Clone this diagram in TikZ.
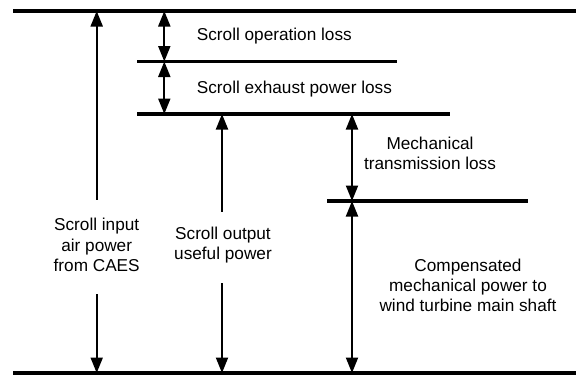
\documentclass[tikz,border=0pt]{standalone}
\usepackage{fontspec}
\setmainfont{Liberation Sans}
\usetikzlibrary{arrows.meta}
\begin{document}
\begin{tikzpicture}[x=1bp,y=-1bp,
  level/.style={line width=3.8bp},
  arr/.style={line width=2bp,-{Triangle[length=15.5bp,width=12bp]}},
  darr/.style={line width=2bp,{Triangle[length=15.5bp,width=12bp]}-{Triangle[length=15.5bp,width=12bp]}},
  lbl/.style={font=\fontsize{17.2bp}{20.3bp}\selectfont, align=center, inner sep=0pt}]
\useasboundingbox (0,0) rectangle (576,378);
% level lines
\coordinate (T1) at (13,11);   \coordinate (T2) at (576,11);
\coordinate (L2a) at (137,61.5); \coordinate (L2b) at (397,61.5);
\coordinate (L3a) at (137,114);  \coordinate (L3b) at (450,114);
\coordinate (L4a) at (327,201);  \coordinate (L4b) at (528,201);
\coordinate (B1) at (13,373);  \coordinate (B2) at (576,373);
\draw[level] (T1) -- (T2);
\draw[level] (L2a) -- (L2b);
\draw[level] (L3a) -- (L3b);
\draw[level] (L4a) -- (L4b);
\draw[level] (B1) -- (B2);
% labels
\node[lbl] (inA) at (96.7,245) {Scroll input\\air power\\from CAES};
\node[lbl] (outC) at (223,245) {Scroll output\\useful power};
\node[lbl] (comp) at (468,285.3) {Compensated\\mechanical power to\\wind turbine main shaft};
\node[lbl] (mech) at (430,153) {Mechanical\\transmission loss};
\node[lbl,anchor=base west] (oper) at (196.7,40) {Scroll operation loss};
\node[lbl,anchor=base west] (exh) at (196.7,93) {Scroll exhaust power loss};
% arrows
\draw[arr] ([yshift=18.6bp]inA.north) -- (inA.north |- T1);
\draw[arr] ([yshift=-22.5bp]inA.south) -- (inA.south |- B1);
\draw[arr] ([yshift=15bp]outC.north-|222,0) -- (222,0 |- L3a);
\draw[arr] ([yshift=-20bp]outC.south-|222,0) -- (222,0 |- B1);
\coordinate (bx) at (164.3,0);
\coordinate (dx) at (352,0);
\draw[darr] (bx |- T1) -- (bx |- L2a);
\draw[darr] (bx |- L2a) -- (bx |- L3a);
\draw[darr] (dx |- L3a) -- (dx |- L4a);
\draw[darr] (dx |- L4a) -- (dx |- B1);
\end{tikzpicture}
\end{document}
